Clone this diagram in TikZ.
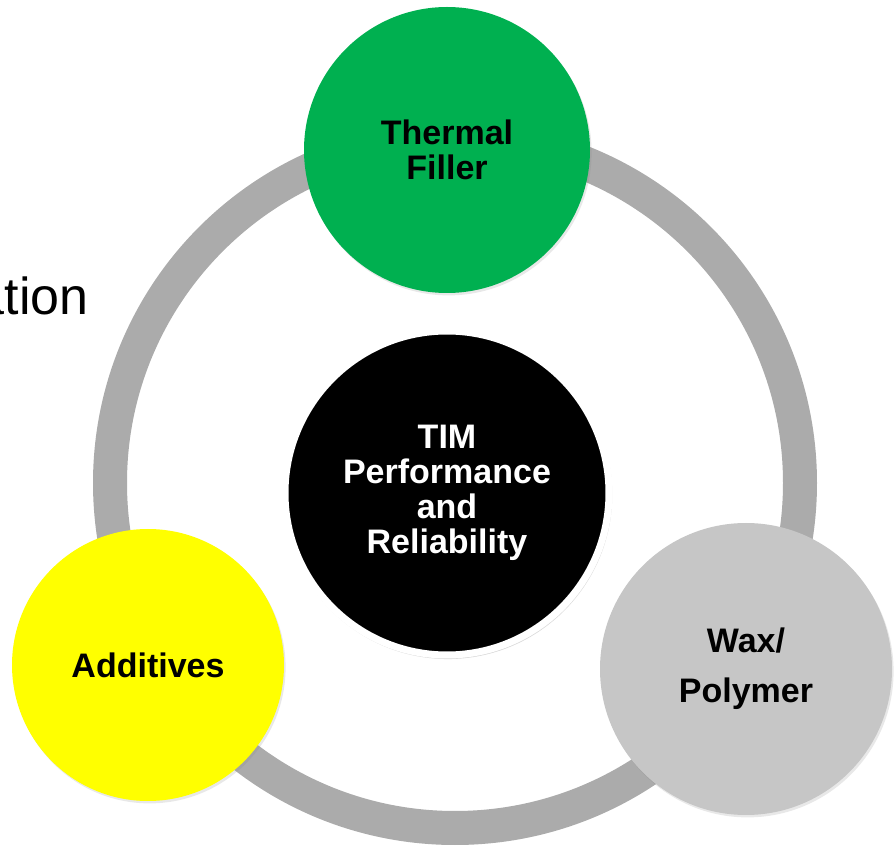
\documentclass[tikz,border=0pt]{standalone}
\usepackage{fontspec}
\setmainfont{Liberation Sans}
\usetikzlibrary{shadows}
\definecolor{ringgray}{HTML}{ABABAB}
\definecolor{fillgreen}{HTML}{00B050}
\definecolor{waxgray}{HTML}{C6C6C6}
\definecolor{addyellow}{HTML}{FFFF00}
\tikzset{
 blob/.style={circle,inner sep=0pt,align=center,font=\fontsize{17}{17.5}\selectfont\bfseries,
  drop shadow={shadow xshift=0.8pt,shadow yshift=-1.2pt,opacity=0.18}},
}
\begin{document}
\begin{tikzpicture}[x=0.5pt,y=-0.5pt]
 \useasboundingbox (0,0) rectangle (896,850);
 % cut-off title text on the left
 \node[anchor=base east,inner sep=0pt,font=\fontsize{26}{30}\selectfont] (title) at (89,315) {ation};
 % ring
 \coordinate (hub) at (455,483);
 \draw[ringgray,line width=17pt] (hub) circle[radius=345];
 % centre
 \node[blob,fill=black,draw=white,line width=3.5pt,text=white,minimum size=162pt,
  drop shadow={shadow scale=1.015,shadow xshift=0.4pt,shadow yshift=-0.8pt,opacity=0.3}] (core) at (447,493) {TIM\\Performance\\and\\Reliability};
 % satellites
 \node[blob,fill=fillgreen,minimum size=143pt] (filler) at (447,150) {Thermal\\Filler};
 \node[blob,fill=waxgray,minimum size=146pt,font=\fontsize{17}{25}\selectfont\bfseries] (wax) at (746,669) {Wax/\\Polymer};
 \node[blob,fill=addyellow,minimum size=136pt] (additives) at (148,665) {Additives};
\end{tikzpicture}
\end{document}
